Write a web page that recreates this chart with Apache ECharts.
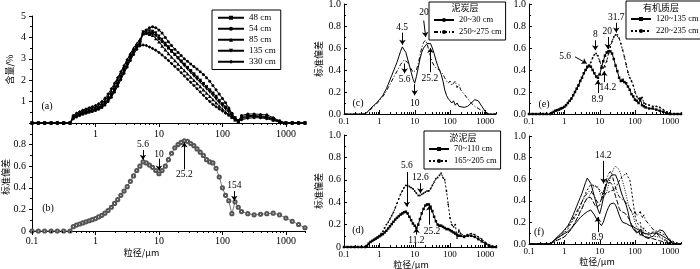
<!DOCTYPE html>
<html>
<head>
<meta charset="utf-8">
<script src="https://cdn.jsdelivr.net/npm/echarts@6/dist/echarts.min.js"></script>
<style>
  html, body { margin: 0; padding: 0; background: #fff; }
  #main { width: 700px; height: 269px; }
</style>
</head>
<body>
<div id="main"></div>
<script>
// grain size classes (μm)
const sizes = [
  0.1, 0.126, 0.158, 0.2, 0.251, 0.316, 0.398, 0.447, 0.501, 0.562,
  0.631, 0.708, 0.794, 0.891, 1, 1.12, 1.26, 1.41, 1.58, 1.78,
  2, 2.24, 2.51, 2.82, 3.16, 3.55, 3.98, 4.47, 5.01, 5.62,
  6.31, 7.08, 7.94, 8.91, 10, 11.2, 12.6, 14.1, 15.8, 17.8,
  20, 22.4, 25.1, 28.2, 31.6, 35.5, 39.8, 44.7, 50.1, 56.2,
  63.1, 70.8, 79.4, 89.1, 100, 112, 126, 141, 158, 178,
  200, 251, 316, 398, 501, 631, 794, 1000, 1259, 1585, 2000
];

// (a) content %
const a48 = [
  0, 0, 0, 0, 0, 0, 0, 0.25, 0.33, 0.4,
  0.46, 0.51, 0.55, 0.6, 0.65, 0.72, 0.82, 0.95, 1.12, 1.35,
  1.6, 1.88, 2.18, 2.5, 2.8, 3.1, 3.35, 3.6, 3.8, 4.15,
  4.2, 4.2, 4.2, 4.1, 3.95, 3.8, 3.65, 3.5, 3.35, 3.2,
  3.05, 2.9, 2.75, 2.6, 2.45, 2.3, 2.15, 2.0, 1.85, 1.7,
  1.55, 1.4, 1.25, 1.05, 0.9, 0.75, 0.6, 0.42, 0.25, 0.1,
  0.3, 0.35, 0.35, 0.33, 0.3, 0.2, 0.08, 0, 0, 0, 0
];
const a54 = [
  0, 0, 0, 0, 0, 0, 0, 0.2, 0.28, 0.35,
  0.41, 0.46, 0.5, 0.54, 0.58, 0.64, 0.72, 0.84, 1.0, 1.2,
  1.45, 1.72, 2.02, 2.32, 2.62, 2.92, 3.2, 3.45, 3.7, 4.2,
  4.35, 4.45, 4.5, 4.45, 4.35, 4.2, 4.0, 3.8, 3.62, 3.45,
  3.3, 3.15, 3.0, 2.88, 2.76, 2.64, 2.52, 2.4, 2.27, 2.12,
  1.95, 1.75, 1.55, 1.35, 1.15, 0.95, 0.7, 0.45, 0.2, 0.08,
  0.35, 0.42, 0.42, 0.4, 0.38, 0.25, 0.1, 0, 0, 0, 0
];
const a85 = [
  0, 0, 0, 0, 0, 0, 0, 0.3, 0.4, 0.48,
  0.55, 0.6, 0.65, 0.7, 0.75, 0.82, 0.92, 1.06, 1.25, 1.5,
  1.76, 2.05, 2.35, 2.66, 2.96, 3.25, 3.5, 3.72, 3.9, 4.2,
  4.2, 4.15, 4.1, 3.95, 3.8, 3.6, 3.42, 3.25, 3.08, 2.92,
  2.76, 2.6, 2.45, 2.3, 2.15, 2.0, 1.85, 1.7, 1.55, 1.4,
  1.25, 1.1, 0.95, 0.8, 0.65, 0.52, 0.4, 0.28, 0.15, 0.08,
  0.2, 0.28, 0.3, 0.28, 0.25, 0.15, 0.05, 0, 0, 0, 0
];
const a135 = [
  0, 0, 0, 0, 0, 0, 0, 0.22, 0.3, 0.37,
  0.43, 0.48, 0.53, 0.57, 0.62, 0.68, 0.77, 0.9, 1.06, 1.27,
  1.52, 1.8, 2.1, 2.4, 2.7, 3.0, 3.28, 3.52, 3.75, 4.25,
  4.3, 4.3, 4.28, 4.2, 4.05, 3.9, 3.72, 3.55, 3.38, 3.2,
  3.02, 2.85, 2.68, 2.52, 2.36, 2.2, 2.05, 1.9, 1.75, 1.6,
  1.45, 1.3, 1.12, 0.95, 0.8, 0.65, 0.5, 0.35, 0.18, 0.1,
  0.25, 0.3, 0.32, 0.3, 0.27, 0.18, 0.06, 0, 0, 0, 0
];
const a330 = [
  0, 0, 0, 0, 0, 0, 0, 0.35, 0.45, 0.53,
  0.6, 0.66, 0.71, 0.76, 0.82, 0.9, 1.01, 1.16, 1.35, 1.6,
  1.86, 2.12, 2.4, 2.68, 2.95, 3.2, 3.4, 3.55, 3.6, 3.65,
  3.62, 3.55, 3.48, 3.4, 3.3, 3.18, 3.05, 2.92, 2.78, 2.64,
  2.5, 2.35, 2.2, 2.05, 1.9, 1.75, 1.6, 1.45, 1.3, 1.15,
  1.0, 0.87, 0.76, 0.66, 0.56, 0.46, 0.36, 0.26, 0.15, 0.06,
  0.15, 0.22, 0.25, 0.24, 0.2, 0.12, 0.04, 0, 0, 0, 0
];

// (b) standard deviation of all samples
const bStd = [
  0, 0, 0, 0, 0, 0, 0, 0.04, 0.055, 0.065,
  0.075, 0.085, 0.095, 0.105, 0.115, 0.13, 0.145, 0.165, 0.19, 0.22,
  0.255, 0.29, 0.33, 0.37, 0.41, 0.46, 0.51, 0.56, 0.6, 0.64,
  0.63, 0.61, 0.59, 0.56, 0.53, 0.56, 0.6, 0.66, 0.72, 0.77,
  0.8, 0.82, 0.835, 0.83, 0.81, 0.79, 0.76, 0.73, 0.7, 0.66,
  0.64, 0.63, 0.58, 0.5, 0.4, 0.33, 0.28, 0.16, 0.27, 0.22,
  0.18, 0.16, 0.15, 0.155, 0.16, 0.165, 0.15, 0.12, 0.09, 0.06, 0.03
];

// (c) 泥炭层
const c2030 = [
  0, 0, 0, 0, 0, 0, 0, 0.01, 0.03, 0.05,
  0.065, 0.08, 0.095, 0.11, 0.13, 0.15, 0.17, 0.2, 0.23, 0.27,
  0.31, 0.35, 0.39, 0.43, 0.47, 0.52, 0.57, 0.61, 0.6, 0.56,
  0.5, 0.44, 0.38, 0.32, 0.28, 0.34, 0.42, 0.5, 0.56, 0.6,
  0.62, 0.64, 0.65, 0.64, 0.6, 0.55, 0.49, 0.44, 0.4, 0.36,
  0.3, 0.22, 0.17, 0.14, 0.12, 0.1, 0.12, 0.08, 0.1, 0.07,
  0.08, 0.06, 0.07, 0.1, 0.13, 0.12, 0.07, 0.02, 0, 0, 0
];
const c250275 = [
  0, 0, 0, 0, 0, 0, 0, 0.01, 0.025, 0.04,
  0.055, 0.07, 0.085, 0.1, 0.12, 0.14, 0.16, 0.18, 0.21, 0.24,
  0.27, 0.3, 0.33, 0.36, 0.39, 0.42, 0.45, 0.47, 0.49, 0.49,
  0.47, 0.44, 0.41, 0.38, 0.37, 0.4, 0.46, 0.53, 0.6, 0.65,
  0.67, 0.64, 0.58, 0.52, 0.47, 0.44, 0.42, 0.43, 0.4, 0.38,
  0.36, 0.33, 0.3, 0.28, 0.3, 0.26, 0.28, 0.3, 0.24, 0.27,
  0.22, 0.18, 0.14, 0.1, 0.07, 0.05, 0.03, 0.01, 0, 0, 0
];

// (d) 淤泥层
const d70110 = [
  0, 0, 0, 0, 0, 0, 0, 0.01, 0.03, 0.045,
  0.055, 0.065, 0.075, 0.085, 0.095, 0.105, 0.115, 0.13, 0.145, 0.165,
  0.185, 0.205, 0.225, 0.245, 0.26, 0.275, 0.29, 0.3, 0.31, 0.315,
  0.3, 0.27, 0.24, 0.21, 0.19, 0.17, 0.2, 0.25, 0.3, 0.34,
  0.37, 0.38, 0.38, 0.36, 0.32, 0.27, 0.23, 0.2, 0.19, 0.19,
  0.18, 0.17, 0.16, 0.16, 0.15, 0.14, 0.13, 0.12, 0.11, 0.1,
  0.1, 0.09, 0.1, 0.1, 0.09, 0.07, 0.05, 0.03, 0.01, 0, 0
];
const d165205 = [
  0, 0, 0, 0, 0, 0, 0, 0.01, 0.03, 0.045,
  0.055, 0.065, 0.075, 0.085, 0.1, 0.12, 0.14, 0.17, 0.2, 0.22,
  0.25, 0.28, 0.31, 0.35, 0.39, 0.43, 0.47, 0.5, 0.53, 0.55,
  0.55, 0.54, 0.53, 0.52, 0.5, 0.48, 0.46, 0.46, 0.47, 0.48,
  0.49, 0.5, 0.5, 0.52, 0.55, 0.58, 0.61, 0.62, 0.64, 0.66,
  0.62, 0.6, 0.5, 0.38, 0.26, 0.2, 0.18, 0.2, 0.08, 0.15,
  0.12, 0.1, 0.11, 0.12, 0.11, 0.09, 0.07, 0.04, 0.02, 0.01, 0
];

// (e) 有机质层
const e120135 = [
  0, 0, 0, 0, 0, 0, 0, 0.01, 0.02, 0.03,
  0.035, 0.04, 0.05, 0.055, 0.065, 0.08, 0.1, 0.12, 0.14, 0.17,
  0.2, 0.23, 0.26, 0.3, 0.33, 0.37, 0.4, 0.43, 0.44, 0.43,
  0.4, 0.37, 0.34, 0.33, 0.36, 0.42, 0.48, 0.53, 0.56, 0.57,
  0.57, 0.55, 0.5, 0.44, 0.39, 0.33, 0.3, 0.31, 0.29, 0.28,
  0.25, 0.22, 0.18, 0.16, 0.13, 0.12, 0.1, 0.14, 0.08, 0.07,
  0.06, 0.05, 0.05, 0.04, 0.03, 0.02, 0.01, 0, 0, 0, 0
];
const e220235 = [
  0, 0, 0, 0, 0, 0, 0, 0.01, 0.02, 0.03,
  0.035, 0.04, 0.05, 0.055, 0.065, 0.08, 0.1, 0.12, 0.14, 0.17,
  0.2, 0.23, 0.26, 0.3, 0.33, 0.37, 0.4, 0.42, 0.44, 0.47,
  0.51, 0.54, 0.55, 0.53, 0.48, 0.44, 0.42, 0.43, 0.48, 0.55,
  0.61, 0.66, 0.7, 0.72, 0.72, 0.69, 0.64, 0.58, 0.52, 0.45,
  0.38, 0.33, 0.3, 0.26, 0.2, 0.16, 0.14, 0.12, 0.15, 0.1,
  0.09, 0.08, 0.07, 0.07, 0.06, 0.04, 0.02, 0, 0, 0, 0
];

// annotations: arrows [x1, y1, x2, y2] and notes [text, x, y]
const bArrows = [[5.6, 0.75, 5.6, 0.66], [10, 0.67, 10, 0.56], [25.2, 0.57, 25.2, 0.82], [154, 0.37, 154, 0.28]];
const bNotes = [['5.6', 5.6, 0.8], ['10', 10, 0.71], ['25.2', 25.2, 0.52], ['154', 154, 0.42]];
const cArrows = [[4.5, 0.74, 4.5, 0.63], [5.2, 0.46, 5.2, 0.37], [10, 0.27, 10, 0.17], [18, 0.85, 20.5, 0.7], [28, 0.38, 28, 0.6]];
const cNotes = [['4.5', 4.4, 0.79], ['5.6', 5.2, 0.31], ['10', 10, 0.1], ['20', 18.5, 0.92], ['25.2', 27, 0.32]];
const dArrows = [[6, 0.67, 6, 0.36], [14.5, 0.57, 14.5, 0.48], [11.2, 0.11, 11.2, 0.17], [26, 0.2, 26, 0.37]];
const dNotes = [['5.6', 6, 0.73], ['12.6', 14.5, 0.62], ['11.2', 11.2, 0.06], ['25.2', 31, 0.14]];
const eArrows = [[2.0, 0.52, 4.3, 0.46], [7.5, 0.67, 7.5, 0.58], [8.9, 0.19, 8.9, 0.31], [13.4, 0.29, 13.4, 0.39], [17, 0.7, 17, 0.59], [29.5, 0.83, 29.5, 0.74]];
const eNotes = [['5.6', 1.05, 0.52], ['8', 7.5, 0.72], ['8.9', 8.6, 0.13], ['14.2', 17, 0.24], ['20', 16.5, 0.75], ['31.7', 29.5, 0.88]];
const fArrows = [[12.9, 0.77, 12.9, 0.56], [8.9, 0.11, 8.9, 0.25]];
const fNotes = [['14.2', 12.6, 0.82], ['8.9', 8.6, 0.06]];

const FONT = '"Liberation Serif", "Times New Roman", "Noto Sans CJK SC", serif';
const CJK = '"Noto Sans CJK SC", "Liberation Serif", sans-serif';

const grids = [
  { left: 32, top: 16, width: 273, height: 107 },
  { left: 32, top: 123, width: 273, height: 108 },
  { left: 344, top: 4, width: 152, height: 110 },
  { left: 344, top: 135, width: 152, height: 112 },
  { left: 529, top: 4, width: 152, height: 110 },
  { left: 529, top: 136, width: 152, height: 108 }
].map(g => Object.assign({ containLabel: false, outerBoundsMode: 'none' }, g));

// log tick marks, drawn through the axis scale
const xTicks = [];
[0.1, 1, 10, 100, 1000].forEach(d => {
  for (let k = 1; k <= 9; k++) if (d * k <= 2000) xTicks.push([d * k, k === 1 ? 1 : 0]);
});

function decade(v) {
  const e = Math.log10(v);
  if (Math.abs(e - Math.round(e)) > 1e-6) return '';
  return v < 0.5 ? '0.1' : String(Math.round(v));
}

function xAx(i, opt) {
  return Object.assign({
    type: 'log', logBase: 10, gridIndex: i, min: 0.1, max: 2000, splitNumber: 5,
    axisLine: { show: true, onZero: false, lineStyle: { color: '#000', width: 1 } },
    axisTick: { show: false }, splitLine: { show: false },
    axisLabel: { color: '#000', fontFamily: FONT, fontSize: i < 2 ? 10 : 9, margin: i < 2 ? 5 : 3,
      showMaxLabel: false, formatter: decade },
    nameTextStyle: { fontFamily: CJK, fontSize: 9, color: '#000' }
  }, opt);
}

function yAx(i, max, interval, fmt, opt) {
  const inside = i >= 2;
  return Object.assign({
    type: 'value', gridIndex: i, min: 0, max: max, interval: interval,
    axisLine: { show: true, lineStyle: { color: '#000', width: 1 } },
    axisTick: { show: true, inside: inside, length: 3, lineStyle: { color: '#000' } },
    minorTick: { show: true, splitNumber: 2, length: 2, lineStyle: { color: '#000' } },
    splitLine: { show: false },
    axisLabel: { color: '#000', fontFamily: FONT, fontSize: 10, margin: inside ? 3 : 6, formatter: fmt },
    nameLocation: 'middle', nameRotate: 90,
    nameTextStyle: { fontFamily: CJK, fontSize: 9, color: '#000' }
  }, opt);
}

const fix1 = v => v.toFixed(1);

function line(name, g, vals, extra) {
  return Object.assign({
    name: name, type: 'line', xAxisIndex: g, yAxisIndex: g,
    data: sizes.map((s, i) => [s, vals[i]]),
    color: '#000', lineStyle: { color: '#000', width: 1 }, itemStyle: { color: '#000' },
    symbol: 'none', silent: true, animation: false, z: 3
  }, extra);
}

function arrows(list) {
  return {
    silent: true, animation: false, symbol: ['none', 'arrow'], symbolSize: 5,
    lineStyle: { color: '#000', width: 1, type: 'solid' }, label: { show: false },
    emphasis: { disabled: true },
    data: list.map(a => [{ coord: [a[0], a[1]] }, { coord: [a[2], a[3]] }])
  };
}

function tickSeries(g) {
  const up = g >= 2;
  return {
    type: 'custom', xAxisIndex: g, yAxisIndex: g, silent: true, clip: false, animation: false,
    data: xTicks, z: 4,
    renderItem: (params, api) => {
      const p = api.coord([api.value(0), 0]);
      const len = api.value(1) ? 4 : 2;
      const x = Math.round(p[0]) + 0.5;
      return { type: 'line', shape: { x1: x, y1: p[1], x2: x, y2: p[1] + (up ? -len : len) },
        style: { stroke: '#000', lineWidth: 1 } };
    }
  };
}

const solidSq = { symbol: 'rect', symbolSize: 2.5, showSymbol: true };
const dotted = { lineStyle: { color: '#000', width: 1, type: [2, 2] }, symbol: 'circle', symbolSize: 1.8, showSymbol: true };
const dashDot = { lineStyle: { color: '#000', width: 1, type: [4, 2, 1, 2] } };

const series = [
  line('48 cm', 0, a48, { symbol: 'rect', symbolSize: 3 }),
  line('54 cm', 0, a54, { symbol: 'circle', symbolSize: 3 }),
  line('85 cm', 0, a85, { symbol: 'triangle', symbolSize: 3.5 }),
  line('135 cm', 0, a135, { symbol: 'triangle', symbolSize: 3.5, symbolRotate: 180 }),
  line('330 cm', 0, a330, { symbol: 'diamond', symbolSize: 3.5 }),
  line('std', 1, bStd, { symbol: 'emptyCircle', symbolSize: 3.2, color: '#555',
    lineStyle: { color: '#555', width: 0.8 },
    itemStyle: { color: '#555', borderColor: '#555', borderWidth: 0.7 }, markLine: arrows(bArrows) }),
  line('20~30 cm', 2, c2030, { markLine: arrows(cArrows) }),
  line('250~275 cm', 2, c250275, dashDot),
  line('70~110 cm', 3, d70110, Object.assign({ markLine: arrows(dArrows) }, solidSq)),
  line('165~205 cm', 3, d165205, dotted),
  line('120~135 cm', 4, e120135, Object.assign({ markLine: arrows(eArrows) }, solidSq)),
  line('220~235 cm', 4, e220235, dotted),
  line('f1', 5, c2030, { markLine: arrows(fArrows) }),
  line('f2', 5, c250275, dashDot),
  line('f3', 5, d70110, {}),
  line('f4', 5, d165205, { lineStyle: { color: '#000', width: 1, type: [2, 2] } }),
  line('f5', 5, e120135, { lineStyle: { color: '#000', width: 1, type: [5, 2] } }),
  line('f6', 5, e220235, { lineStyle: { color: '#000', width: 1, type: [1, 1.5] } })
];
for (let g = 0; g < 6; g++) series.push(tickSeries(g));

function legendBox(left, top, names, opt) {
  return Object.assign({
    left: left, top: top, orient: 'vertical', data: names,
    padding: [13, 4, 3, 4], itemWidth: 20, itemHeight: 5, itemGap: 2,
    borderColor: '#000', borderWidth: 1, borderRadius: 0, backgroundColor: '#fff',
    selectedMode: false, inactiveColor: '#000',
    textStyle: { fontFamily: FONT, fontSize: 8.5, color: '#000', lineHeight: 10 }
  }, opt);
}

const legends = [
  legendBox(212, 10, ['48 cm', '54 cm', '85 cm', '135 cm', '330 cm'],
    { padding: [3, 5, 3, 5], itemWidth: 26, itemGap: 1.5,
      textStyle: { fontFamily: FONT, fontSize: 9, color: '#000', lineHeight: 9.5 } }),
  legendBox(429, 2, ['20~30 cm', '250~275 cm']),
  legendBox(424, 131, ['70~110 cm', '165~205 cm']),
  legendBox(626, 1, ['120~135 cm', '220~235 cm'])
];

function txt(t, x, y, size, font) {
  return { type: 'text', x: x, y: y, silent: true, z: 10,
    style: { text: t, fill: '#000', font: size + 'px ' + (font || FONT),
      textAlign: 'center', textVerticalAlign: 'middle', align: 'center', verticalAlign: 'middle' } };
}

const staticText = [
  txt('(a)', 47, 106, 10), txt('(b)', 48, 208, 10), txt('(c)', 358, 103, 10),
  txt('(d)', 358, 230, 10), txt('(e)', 544, 104, 10), txt('(f)', 539, 232, 10),
  txt('泥炭层', 465, 8, 9, CJK), txt('淤泥层', 463, 138, 9, CJK), txt('有机质层', 661, 8, 9, CJK)
];

const chart = echarts.init(document.getElementById('main'), null, { renderer: 'canvas' });
chart.setOption({
  animation: false,
  backgroundColor: '#fff',
  grid: grids,
  xAxis: [
    xAx(0, { axisLabel: { color: '#000', fontFamily: FONT, fontSize: 10, margin: 6, showMaxLabel: false,
      formatter: v => (v < 0.5 ? '' : decade(v)) } }),
    xAx(1, { name: '粒径/μm', nameLocation: 'middle', nameGap: 17,
      nameTextStyle: { fontFamily: CJK, fontSize: 9, color: '#000', padding: [0, 54, 0, 0] } }),
    xAx(2),
    xAx(3, { name: '粒径/μm', nameLocation: 'middle', nameGap: 11,
      nameTextStyle: { fontFamily: CJK, fontSize: 9, color: '#000', padding: [0, 18, 0, 0] } }),
    xAx(4),
    xAx(5, { name: '粒径/μm', nameLocation: 'middle', nameGap: 11,
      nameTextStyle: { fontFamily: CJK, fontSize: 9, color: '#000', padding: [0, 16, 0, 0] } })
  ],
  yAxis: [
    yAx(0, 5, 1, v => (v === 0 ? '' : String(v)), { name: '含量/%', nameGap: 18 }),
    yAx(1, 1, 0.2, v => (v === 0 ? '0' : v >= 1 ? '' : v.toFixed(1)), { name: '标准偏差', nameGap: 20 }),
    yAx(2, 1, 0.2, fix1, { name: '标准偏差', nameGap: 21 }),
    yAx(3, 1, 0.2, v => (v === 0 ? '0' : v.toFixed(1)), { name: '标准偏差', nameGap: 21 }),
    yAx(4, 1, 0.2, fix1),
    yAx(5, 1, 0.2, fix1)
  ],
  legend: legends,
  series: series,
  graphic: staticText
});

// value labels of the arrows, placed through the axis scales
const notes = [[1, bNotes], [2, cNotes], [3, dNotes], [4, eNotes], [5, fNotes]];
const gfx = staticText.slice();
notes.forEach(([g, list]) => list.forEach(([t, x, y]) => {
  const p = chart.convertToPixel({ gridIndex: g }, [x, y]);
  gfx.push(txt(t, p[0], p[1], 9.5));
}));
chart.setOption({ graphic: gfx });
</script>
</body>
</html>
